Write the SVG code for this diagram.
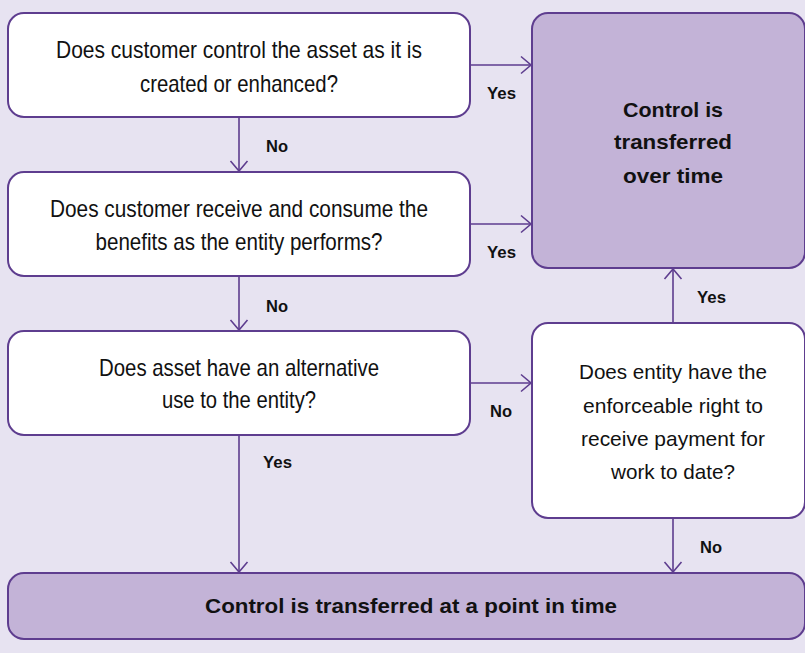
<svg xmlns="http://www.w3.org/2000/svg" width="805" height="653" viewBox="0 0 805 653">
<defs>
<style>
.q{fill:#ffffff;stroke:#5e3d8f;stroke-width:2}
.d{fill:#c3b3d7;stroke:#5e3d8f;stroke-width:2}
.t{font-family:"Liberation Sans",Arial,sans-serif;font-size:24px;fill:#111;text-anchor:middle}
.ts{font-family:"Liberation Sans",Arial,sans-serif;font-size:21px;fill:#111;text-anchor:middle}
.b{font-family:"Liberation Sans",Arial,sans-serif;font-size:21px;font-weight:bold;fill:#111;text-anchor:middle}
.l{font-family:"Liberation Sans",Arial,sans-serif;font-size:17px;font-weight:bold;fill:#111}
.c{fill:none;stroke:#5e3d8f;stroke-width:1.6}
</style>
<marker id="ah" markerUnits="userSpaceOnUse" markerWidth="24" markerHeight="24" refX="0" refY="0" viewBox="-12 -12 24 24" orient="auto" overflow="visible">
<path d="M-10,-8.5 L0,0 L-10,8.5" fill="none" stroke="#5e3d8f" stroke-width="1.6"/>
</marker>
</defs>
<rect x="0" y="0" width="805" height="653" fill="#e7e3f1"/>
<g id="connectors">
<path class="c" d="M239,117 V171" marker-end="url(#ah)"/>
<path class="c" d="M239,276 V330" marker-end="url(#ah)"/>
<path class="c" d="M239,435 V572" marker-end="url(#ah)"/>
<path class="c" d="M470,65 H531" marker-end="url(#ah)"/>
<path class="c" d="M470,224 H531" marker-end="url(#ah)"/>
<path class="c" d="M470,383 H531" marker-end="url(#ah)"/>
<path class="c" d="M673,323 V269" marker-end="url(#ah)"/>
<path class="c" d="M673,518 V572" marker-end="url(#ah)"/>
<text class="l" x="266" y="152" textLength="22" lengthAdjust="spacingAndGlyphs">No</text>
<text class="l" x="266" y="312" textLength="22" lengthAdjust="spacingAndGlyphs">No</text>
<text class="l" x="263" y="468" textLength="29" lengthAdjust="spacingAndGlyphs">Yes</text>
<text class="l" x="487" y="99" textLength="29" lengthAdjust="spacingAndGlyphs">Yes</text>
<text class="l" x="487" y="258" textLength="29" lengthAdjust="spacingAndGlyphs">Yes</text>
<text class="l" x="490" y="417" textLength="22" lengthAdjust="spacingAndGlyphs">No</text>
<text class="l" x="697" y="303" textLength="29" lengthAdjust="spacingAndGlyphs">Yes</text>
<text class="l" x="700" y="553" textLength="22" lengthAdjust="spacingAndGlyphs">No</text>
</g>
<g id="q1">
<rect class="q" x="8" y="13" width="462" height="104" rx="16"/>
<text class="t" x="239" y="58" textLength="366" lengthAdjust="spacingAndGlyphs">Does customer control the asset as it is</text>
<text class="t" x="239" y="92" textLength="198" lengthAdjust="spacingAndGlyphs">created or enhanced?</text>
</g>
<g id="q2">
<rect class="q" x="8" y="172" width="462" height="104" rx="16"/>
<text class="t" x="239" y="217" textLength="378" lengthAdjust="spacingAndGlyphs">Does customer receive and consume the</text>
<text class="t" x="239" y="250" textLength="287" lengthAdjust="spacingAndGlyphs">benefits as the entity performs?</text>
</g>
<g id="q3">
<rect class="q" x="8" y="331" width="462" height="104" rx="16"/>
<text class="t" x="239" y="376" textLength="280" lengthAdjust="spacingAndGlyphs">Does asset have an alternative</text>
<text class="t" x="239" y="408" textLength="154" lengthAdjust="spacingAndGlyphs">use to the entity?</text>
</g>
<g id="over-time">
<rect class="d" x="532" y="13" width="273" height="255" rx="16"/>
<text class="b" x="673" y="117" textLength="100" lengthAdjust="spacingAndGlyphs">Control is</text>
<text class="b" x="673" y="149" textLength="118" lengthAdjust="spacingAndGlyphs">transferred</text>
<text class="b" x="673" y="183" textLength="100" lengthAdjust="spacingAndGlyphs">over time</text>
</g>
<g id="q4">
<rect class="q" x="532" y="323" width="273" height="195" rx="16"/>
<text class="ts" x="673" y="379" textLength="188" lengthAdjust="spacingAndGlyphs">Does entity have the</text>
<text class="ts" x="673" y="413" textLength="180" lengthAdjust="spacingAndGlyphs">enforceable right to</text>
<text class="ts" x="673" y="446" textLength="184" lengthAdjust="spacingAndGlyphs">receive payment for</text>
<text class="ts" x="673" y="479" textLength="124" lengthAdjust="spacingAndGlyphs">work to date?</text>
</g>
<g id="point-in-time">
<rect class="d" x="8" y="573" width="797" height="66" rx="16"/>
<text class="b" x="411" y="613" textLength="412" lengthAdjust="spacingAndGlyphs">Control is transferred at a point in time</text>
</g>
</svg>
